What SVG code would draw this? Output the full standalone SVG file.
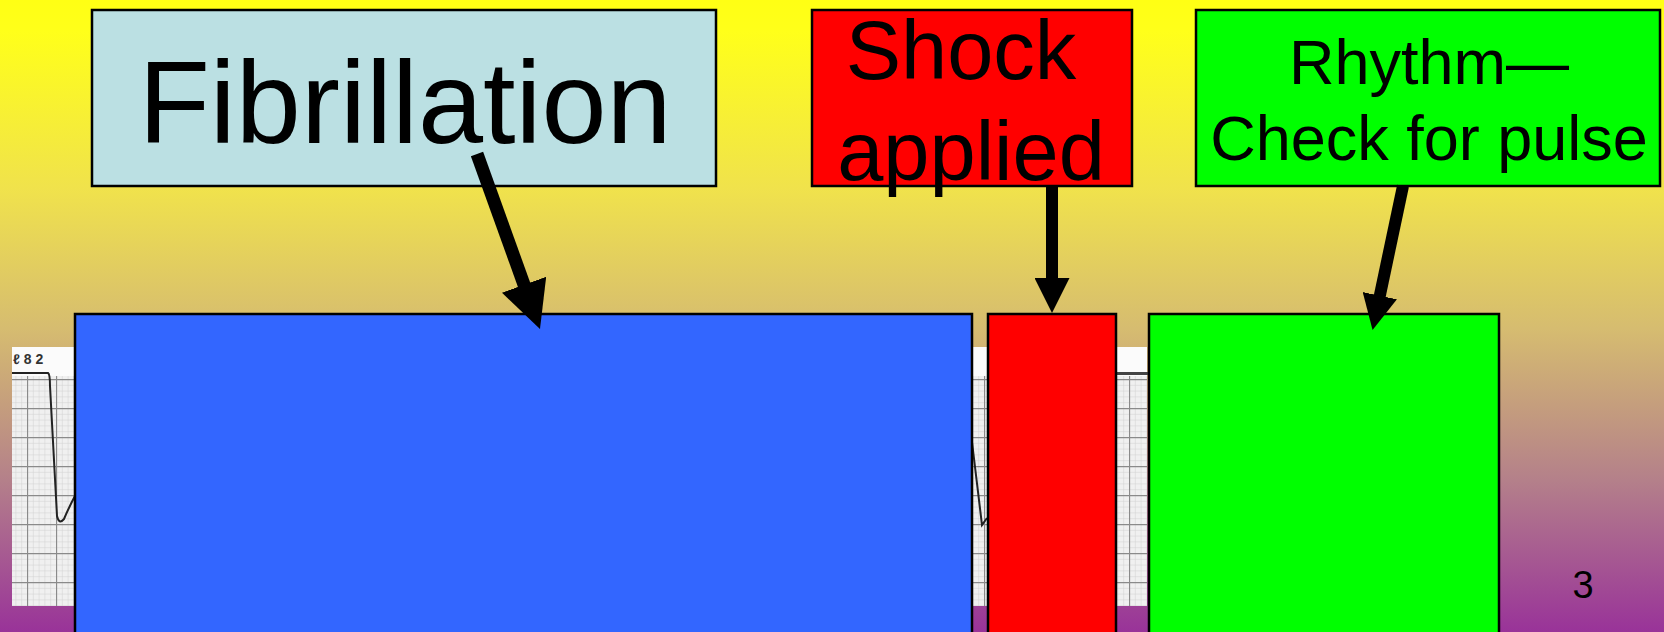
<svg xmlns="http://www.w3.org/2000/svg" width="1664" height="632" viewBox="0 0 1664 632">
  <defs>
    <linearGradient id="bg" x1="0" y1="0" x2="0" y2="1">
      <stop offset="0" stop-color="#FFFF14"/>
      <stop offset="0.05" stop-color="#FFFF1A"/>
      <stop offset="0.3" stop-color="#F0E24C"/>
      <stop offset="0.52" stop-color="#D6BC70"/>
      <stop offset="0.76" stop-color="#B4808A"/>
      <stop offset="1" stop-color="#993399"/>
    </linearGradient>
    <pattern id="minor" x="27" y="379" width="5.8" height="5.8" patternUnits="userSpaceOnUse">
      <path d="M0,0 H5.8 M0,0 V5.8" fill="none" stroke="#d0d0d0" stroke-width="1"/>
    </pattern>
    <pattern id="major" x="27" y="379" width="29" height="29" patternUnits="userSpaceOnUse">
      <path d="M0,0.5 H29 M0.5,0 V29" fill="none" stroke="#8a8a8a" stroke-width="1.3"/>
    </pattern>
    <marker id="headBig" markerUnits="userSpaceOnUse" markerWidth="47" markerHeight="47" viewBox="0 0 47 47" refX="1" refY="23.5" orient="auto">
      <path d="M0,0 L47,23.5 L0,47 z" fill="#000"/>
    </marker>
    <marker id="head" markerUnits="userSpaceOnUse" markerWidth="35" markerHeight="35" viewBox="0 0 35 35" refX="1" refY="17.5" orient="auto">
      <path d="M0,0 L35,17.5 L0,35 z" fill="#000"/>
    </marker>
  </defs>
  <style>
    .box { stroke: #000; stroke-width: 2.5; }
    .lbl { font-family: "Liberation Sans", Arial, sans-serif; fill: #000; text-anchor: middle; }
    .arrow { stroke: #000; fill: none; }
  </style>

  <rect x="0" y="0" width="1664" height="632" fill="url(#bg)"/>

  <g id="ecg-strip">
    <rect x="12" y="347" width="1135" height="259" fill="#fbfbfb"/>
    <rect x="12" y="376" width="1135" height="230" fill="#f0f0f0"/>
    <rect x="12" y="376" width="1135" height="230" fill="url(#minor)"/>
    <rect x="12" y="376" width="1135" height="230" fill="url(#major)"/>
    <text x="13" y="364" font-family="Liberation Sans, sans-serif" font-size="14" font-weight="bold" fill="#333">ℓ 8 2</text>
    <path d="M12,373 H48 Q50,374 50,386 L57,516 Q59,525 64,519 Q69,507 76,494" fill="none" stroke="#222" stroke-width="2"/>
    <path d="M972,442 L982,525 L987,518" fill="none" stroke="#222" stroke-width="2"/>
    <path d="M1115,373.5 H1148" fill="none" stroke="#444" stroke-width="3"/>
  </g>

  <g id="node-fibrillation">
    <rect class="box" x="92" y="10" width="624" height="176" fill="#BBE0E3"/>
    <text class="lbl" x="405" y="143" font-size="117">Fibrillation</text>
  </g>
  <g id="node-shock">
    <rect class="box" x="812" y="10" width="320" height="176" fill="#FF0000"/>
    <text class="lbl" x="961" y="79" font-size="83">Shock</text>
    <text class="lbl" x="971" y="180" font-size="83">applied</text>
  </g>
  <g id="node-rhythm">
    <rect class="box" x="1196" y="10" width="464" height="176" fill="#00FF00"/>
    <text class="lbl" x="1429" y="84" font-size="63">Rhythm—</text>
    <text class="lbl" x="1429" y="160" font-size="63">Check for pulse</text>
  </g>

  <g id="node-fib-segment">
    <rect class="box" x="75" y="314" width="897" height="330" fill="#3366FF"/>
  </g>
  <g id="node-shock-segment">
    <rect class="box" x="988" y="314" width="128" height="330" fill="#FF0000"/>
  </g>
  <g id="node-rhythm-segment">
    <rect class="box" x="1149" y="314" width="350" height="330" fill="#00FF00"/>
  </g>

  <g id="connectors">
    <line class="arrow" x1="477" y1="154" x2="524.4" y2="285.7" stroke-width="13" marker-end="url(#headBig)"/>
    <line class="arrow" x1="1052" y1="186" x2="1052" y2="279" stroke-width="12" marker-end="url(#head)"/>
    <line class="arrow" x1="1403" y1="186" x2="1379.6" y2="296.7" stroke-width="12" marker-end="url(#head)"/>
  </g>

  <text class="lbl" x="1583" y="598" font-size="38">3</text>
</svg>
